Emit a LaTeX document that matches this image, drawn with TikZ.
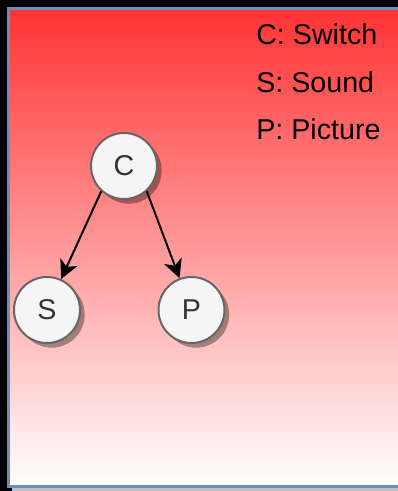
\documentclass[tikz,border=0pt]{standalone}
\usepackage{fontspec}
\setmainfont{Liberation Sans}
\usepackage{tikz}
\usetikzlibrary{arrows.meta,shadows}
\definecolor{frameblue}{HTML}{6C8EBF}
\definecolor{alarmred}{HTML}{FF3333}
\definecolor{nodegray}{HTML}{666666}
\definecolor{nodefill}{HTML}{F5F5F5}
\definecolor{textgray}{HTML}{333333}

\begin{document}
\begin{tikzpicture}[
    x=0.75pt, y=-0.75pt,
    var/.style={circle, draw=nodegray, fill=nodefill, line width=1.5pt, minimum size=49.5pt, inner sep=0pt,
        text=textgray, font=\fontsize{21.5}{25}\selectfont,
        drop shadow={shadow xshift=3.5pt, shadow yshift=-3.5pt, opacity=0.35, fill=black}},
    legend/.style={anchor=base west, inner sep=0pt, font=\fontsize{21.5}{25}\selectfont}
]
    \useasboundingbox (0,0) rectangle (398,491);
    \fill[black] (0,0) rectangle (398,491);
    \fill[black!25] (12,12) rectangle (405,491);
    \draw[draw=frameblue, line width=2.25pt, top color=alarmred, bottom color=white] (8.5,8.5) rectangle (403,486.5);

    \node[legend] (legC) at (256,45) {C: Switch};
    \node[legend] (legS) at (256,92.5) {S: Sound};
    \node[legend] (legP) at (256,140) {P: Picture};

    \node[var] (C) at (124,166) {C};
    \node[var] (S) at (47,310) {S};
    \node[var] (P) at (191.5,310) {P};

    \draw[-{Stealth[length=14pt, width=14pt, inset=4pt]}, line width=1.5pt] (C.228) -- (S);
    \draw[-{Stealth[length=14pt, width=14pt, inset=4pt]}, line width=1.5pt] (C.312) -- (P);
\end{tikzpicture}
\end{document}
